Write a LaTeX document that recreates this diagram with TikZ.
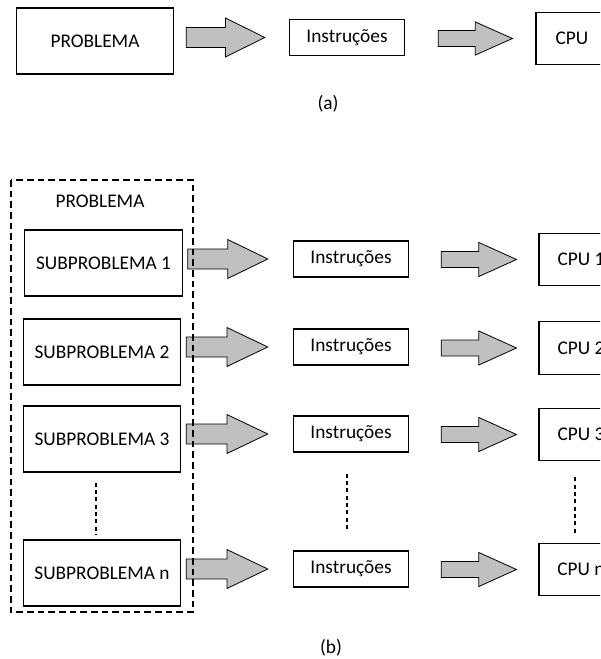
\documentclass[tikz,border=0pt]{standalone}
\usepackage{fontspec}
\setmainfont{Carlito}
\usetikzlibrary{calc}

\definecolor{arrowgray}{RGB}{192,192,192}

\tikzset{
  bigbox/.style={draw, line width=0.8pt, inner sep=0pt, minimum width=118pt, minimum height=49.5pt},
  instbox/.style={draw, line width=0.8pt, inner sep=0pt, minimum width=86.5pt, minimum height=27pt},
  cpubox/.style={draw, line width=0.8pt, inner sep=0pt, minimum width=63pt, minimum height=39.5pt},
  fatarrow/.style={draw=black, line width=0.6pt, fill=arrowgray, line join=miter},
  framebox/.style={draw, line width=0.8pt, dash pattern=on 5pt off 3pt},
  dots/.style={line width=0.8pt, dash pattern=on 3pt off 2.5pt},
}

% block arrow: start point, end point, half shaft, half head
\newcommand{\fatarrow}[4]{%
  \draw[fatarrow] let \p1=#1, \p2=#2 in
    (\x1,\y2+#3) -- ({(\x1+\x2)/2},\y2+#3) -- ({(\x1+\x2)/2},\y2+#4) -- (\x2,\y2)
    -- ({(\x1+\x2)/2},\y2-#4) -- ({(\x1+\x2)/2},\y2-#3) -- (\x1,\y2-#3) -- cycle;}

\begin{document}
\begin{tikzpicture}[x=0.75pt, y=-0.75pt, font=\fontsize{14.5}{17}\selectfont]
    \useasboundingbox (0,0) rectangle (600,659);
    \clip (0,0) rectangle (600,659);

    %%%%%%%%%%%%%%%%%%%%%%%%%%%%%%%%%%%%%%%%%% (a)
    \node[bigbox] (prob) at (95,41) {PROBLEMA};
    \node[instbox] (inst) at (347,37.5) {Instruções};
    \node[cpubox, minimum width=54pt] (cpu) at (572,38.5) {CPU};
    \node (capa) at (328,104) {(a)};

    \fatarrow{($(prob.east)+(12,0)$)}{($(inst.west)+(-24,0)$)}{7.5pt}{14.6pt}
    \fatarrow{($(inst.east)+(33,0)$)}{($(cpu.west)+(-23,0)$)}{6pt}{12.4pt}

    %%%%%%%%%%%%%%%%%%%%%%%%%%%%%%%%%%%%%%%%%% (b)
    \node (probb) at (100,201) {PROBLEMA};

    \node[bigbox] (sub1) at (103.5,263) {SUBPROBLEMA 1};
    \node[bigbox] (sub2) at (102,352) {SUBPROBLEMA 2};
    \node[bigbox] (sub3) at (102,439) {SUBPROBLEMA 3};
    \node[bigbox] (subn) at (102,573) {SUBPROBLEMA n};

    \node[instbox] (inst1) at (351,259) {Instruções};
    \node[instbox] (inst2) at (351,347) {Instruções};
    \node[instbox] (inst3) at (351,434) {Instruções};
    \node[instbox] (instn) at (351,569) {Instruções};

    \node[cpubox] (cpu1) at (581,259.5) {CPU 1};
    \node[cpubox] (cpu2) at (581,348) {CPU 2};
    \node[cpubox] (cpu3) at (581,434.5) {CPU 3};
    \node[cpubox] (cpun) at (581,569.5) {CPU n};

    \fatarrow{($(sub1.east)+(5,0)$)}{($(inst1.west)+(-25,0)$)}{7.5pt}{14.6pt}
    \fatarrow{($(sub2.east)+(5,0)$)}{($(inst2.west)+(-25,0)$)}{7.5pt}{14.6pt}
    \fatarrow{($(sub3.east)+(5,0)$)}{($(inst3.west)+(-25,0)$)}{7.5pt}{14.6pt}
    \fatarrow{($(subn.east)+(5,0)$)}{($(instn.west)+(-25,0)$)}{7.5pt}{14.6pt}

    \fatarrow{($(inst1.east)+(32,0)$)}{($(cpu1.west)+(-22,0)$)}{6pt}{12.75pt}
    \fatarrow{($(inst2.east)+(32,0)$)}{($(cpu2.west)+(-22,0)$)}{6pt}{12.75pt}
    \fatarrow{($(inst3.east)+(32,0)$)}{($(cpu3.west)+(-22,0)$)}{6pt}{12.75pt}
    \fatarrow{($(instn.east)+(32,0)$)}{($(cpun.west)+(-22,0)$)}{6pt}{12.75pt}

    \draw[dots] ($(sub3.south)+(-6,10)$) -- ($(subn.north)+(-6,-5)$);
    \draw[dots] ($(inst3.south)+(-4,21)$) -- ($(instn.north)+(-4,-19)$);
    \draw[dots] ($(cpu3.south)+(-6,16)$) -- ($(cpun.north)+(-6,-10)$);

    \draw[framebox] (11,180) rectangle (193,612);
    \node (capb) at (331,648) {(b)};
\end{tikzpicture}
\end{document}
